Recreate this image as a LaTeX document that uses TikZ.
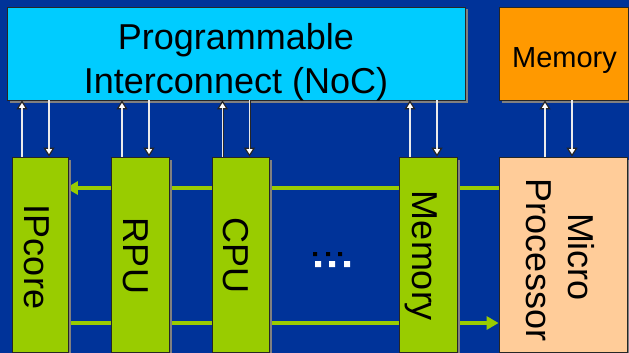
\documentclass[tikz,border=0pt]{standalone}
\usepackage{fontspec}
\setmainfont{Liberation Sans}
\usetikzlibrary{arrows.meta,shadows}
\pgfdeclarelayer{back}
\pgfdeclarelayer{mid}
\pgfsetlayers{back,mid,main}

\definecolor{bgblue}{HTML}{003399}
\definecolor{noccyan}{HTML}{00CCFF}
\definecolor{memorange}{HTML}{FF9900}
\definecolor{pegreen}{HTML}{99CC00}
\definecolor{peach}{HTML}{FFCC99}

\tikzset{
  linktip/.tip={Triangle[width=11pt,length=9pt,fill=white,line width=1.2pt]},
  bustip/.tip={Triangle[width=13pt,length=12pt]}
}

\begin{document}
\begin{tikzpicture}[x=1pt,y=-1pt,
  box/.style={draw=black!85, line width=0.8pt, inner sep=0pt,
    drop shadow={shadow xshift=2.5pt, shadow yshift=-2.5pt, fill=black!50, opacity=1}},
  big/.style={font=\fontsize{36}{43}\selectfont, inner sep=0pt},
  vert/.style={big, rotate=-90, anchor=base},
  link/.style={draw=black!85, line width=2pt, -linktip,
    postaction={draw=black!8, line width=1.1pt, arrows=-, shorten >=8pt}},
  bus/.style={draw=pegreen, line width=3.5pt, -bustip}]

  % canvas
  \useasboundingbox (0,0) rectangle (629,353);
  \begin{pgfonlayer}{back}
    \fill[bgblue] (0,0) rectangle (629,353);
  \end{pgfonlayer}

  % top row: interconnect and shared memory
  \node[box, fill=noccyan, minimum width=458pt, minimum height=93pt] (noc) at (236,53.5) {};
  \node[big, anchor=base] (noct1) at (236,50) {Programmable};
  \node[big, anchor=base] (noct2) at (236,93) {Interconnect (NoC)};

  \node[box, fill=memorange, minimum width=129pt, minimum height=93pt] (memtop) at (563.5,53.5) {};
  \node[font=\fontsize{29}{34}\selectfont, inner sep=0pt, anchor=base] (memtopt) at (564.5,67) {Memory};

  % bottom row: processing elements
  \node[box, fill=pegreen, minimum width=56pt, minimum height=195pt] (ip) at (40,254.5) {};
  \node[box, fill=pegreen, minimum width=58pt, minimum height=195pt] (rpu) at (140,254.5) {};
  \node[box, fill=pegreen, minimum width=57pt, minimum height=195pt] (cpu) at (240.5,254.5) {};
  \node[box, fill=pegreen, minimum width=58pt, minimum height=195pt] (memg) at (428,254.5) {};
  \node[box, fill=peach, minimum width=128pt, minimum height=195pt] (micro) at (563,254.5) {};

  \node[vert] (ipt) at (24,257) {IPcore};
  \node[vert] (rput) at (123,256) {RPU};
  \node[vert] (cput) at (223,255.5) {CPU};
  \node[vert] (memgt) at (412,256) {Memory};
  \node[vert] (microt) at (568,257) {Micro};
  \node[vert] (proct) at (526,260) {Processor};

  % ellipsis between CPU and memory
  \fill[black] (313,252) rectangle (317,256) (326,252) rectangle (330,256) (338,252) rectangle (342,256);
  \fill[white] (315,261) rectangle (321,267) (329,261) rectangle (335,267) (344,261) rectangle (350,267);

  % links to the interconnect
  \foreach \n in {ip,rpu,cpu,memg}{
    \coordinate (\n-u) at ([xshift=-18pt]\n.north);
    \coordinate (\n-d) at ([xshift=9pt]\n.north);
    \draw[link] (\n-u) -- (\n-u |- noc.south);
    \draw[link] (\n-d |- noc.south) -- (\n-d);
  }
  % links between microprocessor and memory
  \coordinate (micro-u) at ([xshift=-18pt]micro.north);
  \coordinate (micro-d) at ([xshift=9pt]micro.north);
  \draw[link] (micro-u) -- (micro-u |- memtop.south);
  \draw[link] (micro-d |- memtop.south) -- (micro-d);

  % direct buses behind the blocks
  \coordinate (busa) at ([yshift=66.5pt]micro.west);
  \coordinate (busb) at ([yshift=-68.5pt]ip.east);
  \begin{pgfonlayer}{mid}
    \draw[bus, shorten >=-2.5pt] (busa) -- (busa -| ip.east);
    \draw[bus] (busb) -- (busb -| micro.west);
  \end{pgfonlayer}
\end{tikzpicture}
\end{document}
